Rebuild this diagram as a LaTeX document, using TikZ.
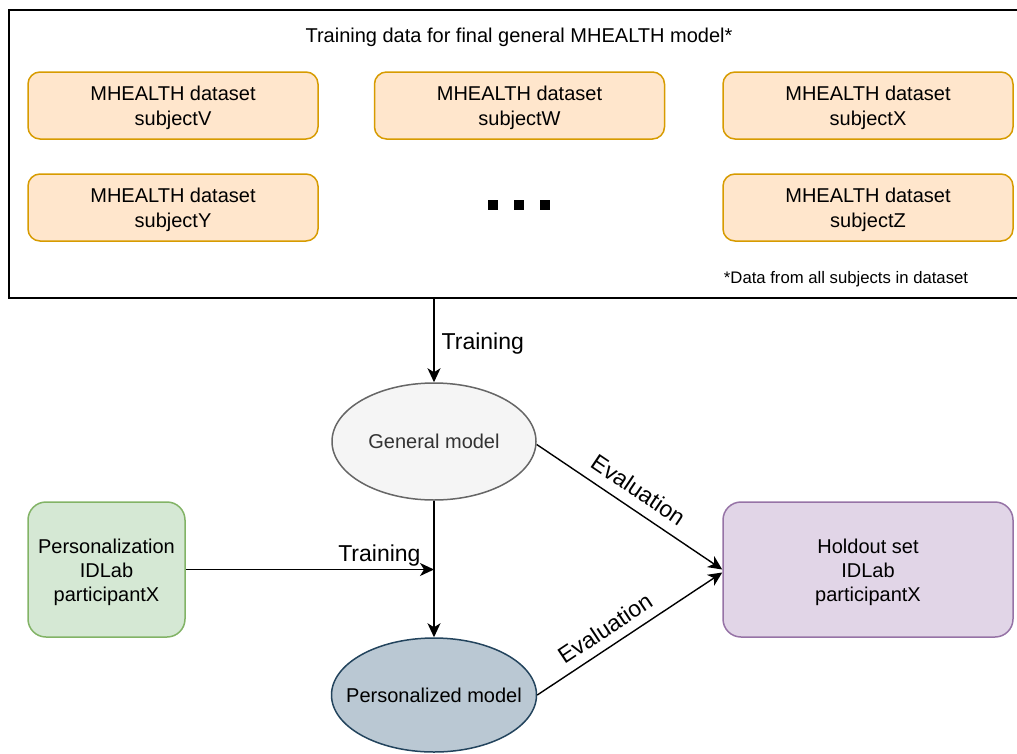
\documentclass[tikz,border=0pt]{standalone}
\usepackage{fontspec}
\setmainfont{Liberation Sans}
\usetikzlibrary{arrows.meta,shapes.geometric}
\definecolor{orfill}{HTML}{FFE6CC}
\definecolor{orline}{HTML}{D79B00}
\definecolor{grfill}{HTML}{D5E8D4}
\definecolor{grline}{HTML}{82B366}
\definecolor{pufill}{HTML}{E1D5E7}
\definecolor{puline}{HTML}{9673A6}
\definecolor{gefill}{HTML}{F5F5F5}
\definecolor{geline}{HTML}{666666}
\definecolor{getext}{HTML}{333333}
\definecolor{pefill}{HTML}{BAC8D3}
\definecolor{peline}{HTML}{23445D}
\newcommand{\tstrut}{\rule{0pt}{20pt}}
\begin{document}
\begin{tikzpicture}[x=1pt,y=-1pt,
  every node/.style={font=\fontsize{20}{24}\selectfont, align=center, inner sep=0pt},
  framebox/.style={draw=black, line width=1.8pt, minimum width=1021pt, minimum height=288pt},
  databox/.style={draw=orline, fill=orfill, rounded corners=12pt, line width=1.5pt, minimum width=290pt, minimum height=67pt, font=\fontsize{20}{25}\selectfont},
  sqdot/.style={fill=black, minimum size=10pt},
  greenbox/.style={draw=grline, fill=grfill, rounded corners=18pt, line width=1.5pt, minimum width=157pt, minimum height=135pt},
  purplebox/.style={draw=puline, fill=pufill, rounded corners=18pt, line width=1.5pt, minimum width=290pt, minimum height=135pt},
  genell/.style={ellipse, draw=geline, fill=gefill, text=getext, line width=1.5pt, minimum width=204pt, minimum height=117pt},
  perell/.style={ellipse, draw=peline, fill=pefill, line width=1.5pt, inner xsep=-16pt, minimum width=205pt, minimum height=114pt},
  conn/.style={-{Stealth[length=14pt,width=13pt,inset=4pt]}, line width=1.4pt},
  lbl/.style={font=\fontsize{23}{27}\selectfont}
]
\useasboundingbox (0,0) rectangle (1017,753);
\node[framebox] (frame) at (519.5,154) {};
\node (title) at (519,37) {Training data for final general MHEALTH model*};
\node[databox] (v) at (173,105.5) {\tstrut MHEALTH dataset\\subjectV};
\node[databox] (w) at (519.5,105.5) {\tstrut MHEALTH dataset\\subjectW};
\node[databox] (x) at (868,105.5) {\tstrut MHEALTH dataset\\subjectX};
\node[databox] (y) at (173,207.5) {\tstrut MHEALTH dataset\\subjectY};
\node[databox] (z) at (868,207.5) {\tstrut MHEALTH dataset\\subjectZ};
\node[sqdot] (d1) at (493,205) {};
\node[sqdot] (d2) at (519,205) {};
\node[sqdot] (d3) at (545,205) {};
\node[font=\fontsize{16.7}{20}\selectfont] (note) at (846,279) {*Data from all subjects in dataset};
\node[genell] (gen) at (434,441.5) {General model};
\node[perell] (pers) at (434,695) {Personalized model};
\node[greenbox] (pz) at (106.5,569.5) {\tstrut Personalization\\IDLab\\participantX};
\node[purplebox] (hold) at (868,569.5) {\tstrut Holdout set\\IDLab\\participantX};
\coordinate (join) at (gen.south |- pz.east);
\draw[conn] (frame.south -| gen.north) -- node[lbl, right=7pt, yshift=-3pt] {Training} (gen.north);
\draw[conn] (gen.south) -- (pers.north);
\draw[conn] (pz.east) -- node[lbl, above=3pt, pos=0.78] {Training} (join);
\draw[conn] ([yshift=-3pt]gen.east) -- node[lbl, sloped, above=10pt, pos=0.49] {Evaluation} ([yshift=0pt]hold.west);
\draw[conn] (pers.east) -- node[lbl, sloped, above=9pt, pos=0.42] {Evaluation} ([yshift=-3pt]hold.west);
\end{tikzpicture}
\end{document}
